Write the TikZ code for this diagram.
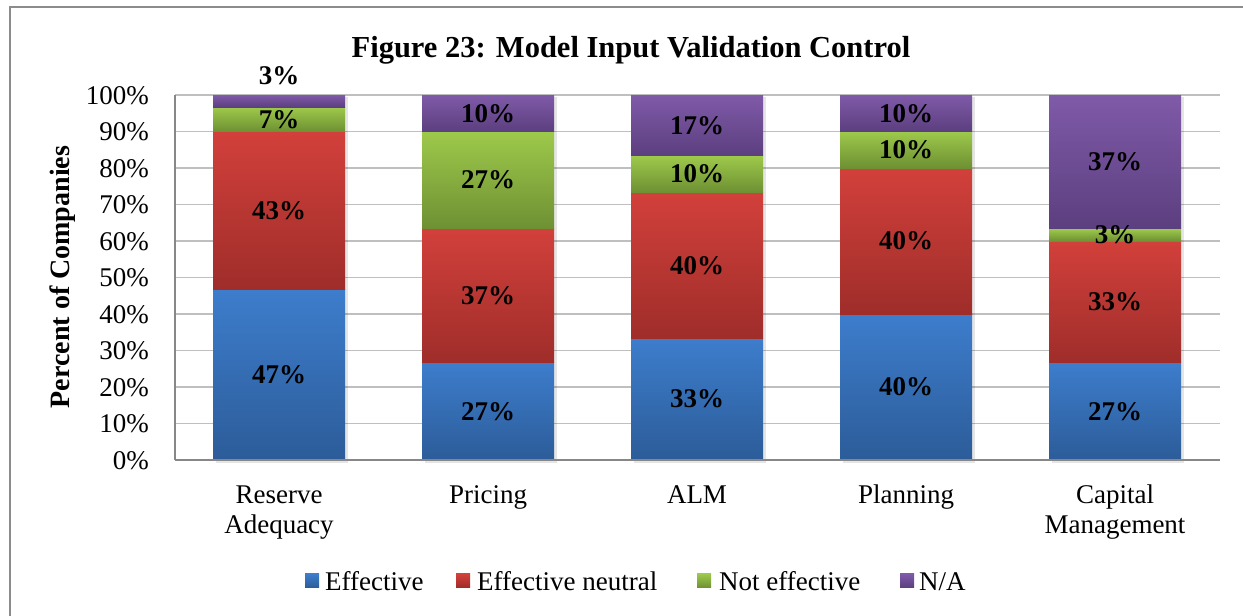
\documentclass[tikz,border=0pt]{standalone}
\usepackage{fontspec}
\setmainfont{Liberation Serif}
\definecolor{effT}{HTML}{3D7DCC}
\definecolor{effB}{HTML}{2C5C99}
\definecolor{neuT}{HTML}{D2403B}
\definecolor{neuB}{HTML}{9F2D2A}
\definecolor{notT}{HTML}{9DC94B}
\definecolor{notB}{HTML}{6E9033}
\definecolor{naT}{HTML}{7F5AA8}
\definecolor{naB}{HTML}{5C3F7F}
\definecolor{gridc}{HTML}{BFBFBF}
\definecolor{axisc}{HTML}{878787}
\definecolor{framec}{HTML}{8C8C8C}
\tikzset{
  effseg/.style={top color=effT, bottom color=effB},
  neuseg/.style={top color=neuT, bottom color=neuB},
  notseg/.style={top color=notT, bottom color=notB},
  naseg/.style={top color=naT, bottom color=naB},
  barshadow/.style={fill=black, opacity=0.10},
  gridline/.style={draw=gridc, line width=1.4pt},
  axisline/.style={draw=axisc, line width=1.6pt},
  val/.style={font=\bfseries\fontsize{27}{30}\selectfont, inner sep=0pt},
  ticklab/.style={font=\fontsize{27}{30}\selectfont, inner sep=0pt, anchor=base east},
  catlab/.style={font=\fontsize{27}{30}\selectfont, inner sep=0pt, anchor=base},
  legtext/.style={font=\fontsize{27}{30}\selectfont, inner sep=0pt, anchor=base west},
  legbox/.style={minimum width=14pt, minimum height=14pt, inner sep=0pt, anchor=south west},
}
\begin{document}
\begin{tikzpicture}[x=1pt, y=-1pt]
\useasboundingbox (0,0) rectangle (1243,616);
\fill[white] (0,0) rectangle (1243,616);
% frame
\draw[framec, line width=2pt] (10,640) -- (10,7) -- (1270,7);
% title
\node[font=\bfseries\fontsize{30.5}{34}\selectfont, inner sep=0pt, anchor=base] (title) at (631,57) {Figure 23: Model Input Validation Control};
% y axis label
\node[font=\bfseries\fontsize{28}{30}\selectfont, inner sep=0pt, anchor=base, rotate=90] (ylab) at (69,277) {Percent of Companies};
% grid + ticks
\foreach \k in {1,...,10}{
  \pgfmathsetmacro\gy{460-36.5*\k}
  \draw[gridline] (175,\gy) -- (1220,\gy);
}
\foreach \k in {0,...,10}{
  \pgfmathsetmacro\gy{460-36.5*\k}
  \pgfmathtruncatemacro\pc{10*\k}
  \node[ticklab] (tick\k) at (149,\gy+9) {\pc\%};
}
% bars
\foreach \i/\a/\b/\c/\d/\la/\lb/\lc/\ld in {
  0/46.667/43.333/6.667/3.333/47/43/7/3,
  1/26.667/36.667/26.667/10/27/37/27/10,
  2/33.333/40/10/16.667/33/40/10/17,
  3/40/40/10/10/40/40/10/10,
  4/26.667/33.333/3.333/36.667/27/33/3/37}{
  \pgfmathsetmacro\cx{279+209*\i}
  \pgfmathsetmacro\xl{\cx-66}
  \pgfmathsetmacro\xr{\cx+66}
  \pgfmathsetmacro\ya{460-3.65*\a}
  \pgfmathsetmacro\yb{460-3.65*(\a+\b)}
  \pgfmathsetmacro\yc{460-3.65*(\a+\b+\c)}
  \pgfmathsetmacro\ny{\i==0 ? 76 : (\yc+95)/2}
  \fill[barshadow] (\xl+3,97) rectangle (\xr+3,463);
  \fill[effseg] (\xl,460) rectangle (\xr,\ya);
  \fill[neuseg] (\xl,\ya) rectangle (\xr,\yb);
  \fill[notseg] (\xl,\yb) rectangle (\xr,\yc);
  \fill[naseg] (\xl,\yc) rectangle (\xr,95);
  \node[val] (e\i) at (\cx,{(460+\ya)/2}) {\la\%};
  \node[val] (n\i) at (\cx,{(\ya+\yb)/2}) {\lb\%};
  \node[val] (t\i) at (\cx,{(\yb+\yc)/2}) {\lc\%};
  \node[val] (a\i) at (\cx,\ny) {\ld\%};
}
% axes
\draw[axisline] (175,95) -- (175,460);
\draw[axisline] (175,460) -- (1220,460);
% category labels
\node[catlab] (c0a) at (279,503) {Reserve};
\node[catlab] (c0b) at (279,533) {Adequacy};
\node[catlab] (c1) at (488,503) {Pricing};
\node[catlab] (c2) at (697,503) {ALM};
\node[catlab] (c3) at (906,503) {Planning};
\node[catlab] (c4a) at (1115,503) {Capital};
\node[catlab] (c4b) at (1115,533) {Management};
% legend
\node[legbox, effseg] (lb1) at (305,588) {};
\node[legtext] (lt1) at (325,590) {Effective};
\node[legbox, neuseg] (lb2) at (456,588) {};
\node[legtext] (lt2) at (477,590) {Effective neutral};
\node[legbox, notseg] (lb3) at (697,588) {};
\node[legtext] (lt3) at (719,590) {Not effective};
\node[legbox, naseg] (lb4) at (900,588) {};
\node[legtext] (lt4) at (919,590) {N/A};
\end{tikzpicture}
\end{document}
